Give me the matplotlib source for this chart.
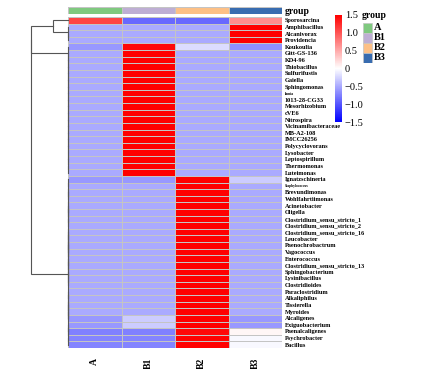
import matplotlib
matplotlib.use("Agg")
import matplotlib.pyplot as plt
import numpy as np
from matplotlib.colors import LinearSegmentedColormap, ListedColormap
from matplotlib.patches import Rectangle

plt.rcParams["font.family"] = ["Liberation Serif", "DejaVu Serif"]

# ---------------------------------------------------------------------------
# Data (row-scaled abundance)
# ---------------------------------------------------------------------------
genera = [
    "Sporosarcina", "Amphibacillus", "Alcanivorax", "Providencia", "Koukoulia",
    "Gitt-GS-136", "KD4-96", "Thiobacillus", "Sulfurifustis", "Gaiella",
    "Sphingomonas", "Iamia", "1013-28-CG33", "Mesorhizobium", "cVE6",
    "Nitrospira", "Vicinamibacteraceae", "MB-A2-108", "IMCC26256", "Polycyclovorans",
    "Lysobacter", "Leptospirillum", "Thermomonas", "Luteimonas", "Ignatzschineria",
    "Staphylococcus", "Brevundimonas", "Wohlfahrtiimonas", "Acinetobacter", "Oligella",
    "Clostridium_sensu_stricto_1", "Clostridium_sensu_stricto_2",
    "Clostridium_sensu_stricto_16", "Leucobacter", "Paenochrobactrum",
    "Vagococcus", "Enterococcus", "Clostridium_sensu_stricto_13", "Sphingobacterium",
    "Lysinibacillus", "Clostridioides", "Paraclostridium", "Alkaliphilus", "Tissierella",
    "Myroides", "Alcaligenes", "Exiguobacterium", "Paenalcaligenes", "Psychrobacter",
    "Bacillus",
]
tiny_labels = ["Iamia", "Staphylococcus"]

samples = ["A", "B1", "B2", "B3"]
group_colors = ["#7FC97F", "#BEAED4", "#FDC086", "#386CB0"]

col_A = [1.10, -0.50, -0.50, -0.50, -0.60, -0.50, -0.50, -0.50, -0.50, -0.50,
         -0.50, -0.50, -0.50, -0.50, -0.50, -0.50, -0.50, -0.50, -0.50, -0.50,
         -0.50, -0.50, -0.50, -0.50, -0.60, -0.50, -0.50, -0.50, -0.50, -0.50,
         -0.50, -0.50, -0.50, -0.50, -0.50, -0.50, -0.50, -0.50, -0.50, -0.50,
         -0.50, -0.50, -0.50, -0.50, -0.50, -0.60, -0.60, -0.75, -0.72, -0.72]
col_B1 = [-0.88, -0.50, -0.50, -0.50, 1.45, 1.50, 1.50, 1.50, 1.50, 1.50,
          1.50, 1.50, 1.50, 1.50, 1.50, 1.50, 1.50, 1.50, 1.50, 1.50,
          1.50, 1.50, 1.50, 1.50, -0.60, -0.50, -0.50, -0.50, -0.50, -0.50,
          -0.50, -0.50, -0.50, -0.50, -0.50, -0.50, -0.50, -0.50, -0.50, -0.50,
          -0.50, -0.50, -0.50, -0.50, -0.50, -0.30, -0.30, -0.75, -0.72, -0.72]
col_B2 = [-0.88, -0.50, -0.50, -0.50, -0.20, -0.50, -0.50, -0.50, -0.50, -0.50,
          -0.50, -0.50, -0.50, -0.50, -0.50, -0.50, -0.50, -0.50, -0.50, -0.50,
          -0.50, -0.50, -0.50, -0.50, 1.50, 1.50, 1.50, 1.50, 1.50, 1.50,
          1.50, 1.50, 1.50, 1.50, 1.50, 1.50, 1.50, 1.50, 1.50, 1.50,
          1.50, 1.50, 1.50, 1.50, 1.50, 1.50, 1.50, 1.45, 1.48, 1.48]
col_B3 = [0.66, 1.50, 1.50, 1.50, -0.65, -0.50, -0.50, -0.50, -0.50, -0.50,
          -0.50, -0.50, -0.50, -0.50, -0.50, -0.50, -0.50, -0.50, -0.50, -0.50,
          -0.50, -0.50, -0.50, -0.50, -0.30, -0.50, -0.50, -0.50, -0.50, -0.50,
          -0.50, -0.50, -0.50, -0.50, -0.50, -0.50, -0.50, -0.50, -0.50, -0.50,
          -0.50, -0.50, -0.50, -0.50, -0.50, -0.60, -0.60, 0.05, -0.04, -0.04]

cbar_ticks = [1.5, 1.0, 0.5, 0, -0.5, -1.0, -1.5]
cbar_labels = ["1.5", "1.0", "0.5", "0", "\u22120.5", "\u22121.0", "\u22121.5"]


# ---------------------------------------------------------------------------
# Row dendrogram (leaves are row indices, nodes are (left, right, height))
# ---------------------------------------------------------------------------
def chain(leaves, h):
    node = leaves[-1]
    for leaf in reversed(leaves[:-1]):
        node = (leaf, node, h)
    return node


def balanced(leaves, h):
    if len(leaves) == 1:
        return leaves[0]
    mid = len(leaves) // 2
    return (balanced(leaves[:mid], h), balanced(leaves[mid:], h), h)


top_cluster = (0, chain([1, 2, 3], 0.0), 0.41)
b1_cluster = chain(list(range(4, 24)), 0.005)
b2_cluster = (balanced(list(range(24, 41)), 0.0),
              (balanced(list(range(41, 46)), 0.0), balanced(list(range(46, 50)), 0.0), 0.005),
              0.01)
row_tree = ((top_cluster, b1_cluster, 0.99), b2_cluster, 1.0)


def draw_tree(ax, node):
    if isinstance(node, int):
        return node + 0.5, 0.0
    left, right, h = node
    yl, hl = draw_tree(ax, left)
    yr, hr = draw_tree(ax, right)
    ax.plot([hl, h, h, hr], [yl, yl, yr, yr], color="#555555", lw=0.8,
            solid_joinstyle="miter", clip_on=False)
    return (yl + yr) / 2, h


# ---------------------------------------------------------------------------
# Figure
# ---------------------------------------------------------------------------
W, H = 425, 369


def px_rect(x0, y0, x1, y1):
    return [x0 / W, 1 - y1 / H, (x1 - x0) / W, (y1 - y0) / H]


fig = plt.figure(figsize=(W / 100, H / 100), dpi=100)

matrix = np.column_stack([col_A, col_B1, col_B2, col_B3])
n_rows, n_cols = matrix.shape
cmap = LinearSegmentedColormap.from_list("bwr_ph", ["#0000FF", "#FFFFFF", "#FF0000"])

# heatmap
ax = fig.add_axes(px_rect(68, 17, 282, 348))
mesh = ax.pcolormesh(matrix, cmap=cmap, vmin=-1.5, vmax=1.5,
                     edgecolors="#c4c4c4", linewidth=0.5)
ax.set_xlim(0, n_cols)
ax.set_ylim(n_rows, 0)
for s in ax.spines.values():
    s.set_visible(False)
ax.set_xticks(np.arange(n_cols) + 0.5)
ax.set_xticklabels(samples, rotation=90, fontsize=7, fontweight="bold")
ax.yaxis.tick_right()
ax.set_yticks(np.arange(n_rows) + 0.5)
ax.set_yticklabels(genera, fontsize=4.5, fontweight="bold")
for lab in ax.get_yticklabels():
    if lab.get_text() in tiny_labels:
        lab.set_fontsize(2.6)
ax.tick_params(axis="x", length=0, pad=7)
ax.tick_params(axis="y", length=0, pad=2)

# group annotation bar
ax_g = fig.add_axes(px_rect(68, 7, 282, 14))
ax_g.pcolormesh(np.arange(n_cols)[None, :], cmap=ListedColormap(group_colors),
                edgecolors="#c4c4c4", linewidth=0.5)
ax_g.set_xlim(0, n_cols)
ax_g.set_xticks([])
ax_g.yaxis.tick_right()
ax_g.set_yticks([0.5])
ax_g.set_yticklabels(["group"], fontsize=7, fontweight="bold")
ax_g.tick_params(axis="y", length=0, pad=2)
for s in ax_g.spines.values():
    s.set_visible(False)

# dendrogram
ax_d = fig.add_axes(px_rect(31, 17, 68, 348))
draw_tree(ax_d, row_tree)
ax_d.set_xlim(1.0, 0.0)
ax_d.set_ylim(n_rows, 0)
ax_d.axis("off")

# colour bar
cax = fig.add_axes(px_rect(335, 15, 342, 122))
cbar = fig.colorbar(mesh, cax=cax, ticks=cbar_ticks)
cbar.ax.set_yticklabels(cbar_labels, fontsize=7.5)
cbar.ax.tick_params(length=0, pad=2)
cbar.outline.set_visible(False)

# group legend
ax_l = fig.add_axes(px_rect(362, 7, 400, 63))
ax_l.set_xlim(0, 38)
ax_l.set_ylim(56, 0)
ax_l.axis("off")
ax_l.text(0, 8.5, "group", fontsize=7, fontweight="bold", va="center", ha="left")
for i, (name, color) in enumerate(zip(samples, group_colors)):
    y0 = 15.5 + i * 10
    ax_l.add_patch(Rectangle((0.5, y0), 9.5, 10, facecolor=color, edgecolor="#c4c4c4", lw=0.5))
    ax_l.text(12, y0 + 5, name, fontsize=7.5, fontweight="bold", va="center", ha="left")

fig.savefig("out.png", dpi=100)
